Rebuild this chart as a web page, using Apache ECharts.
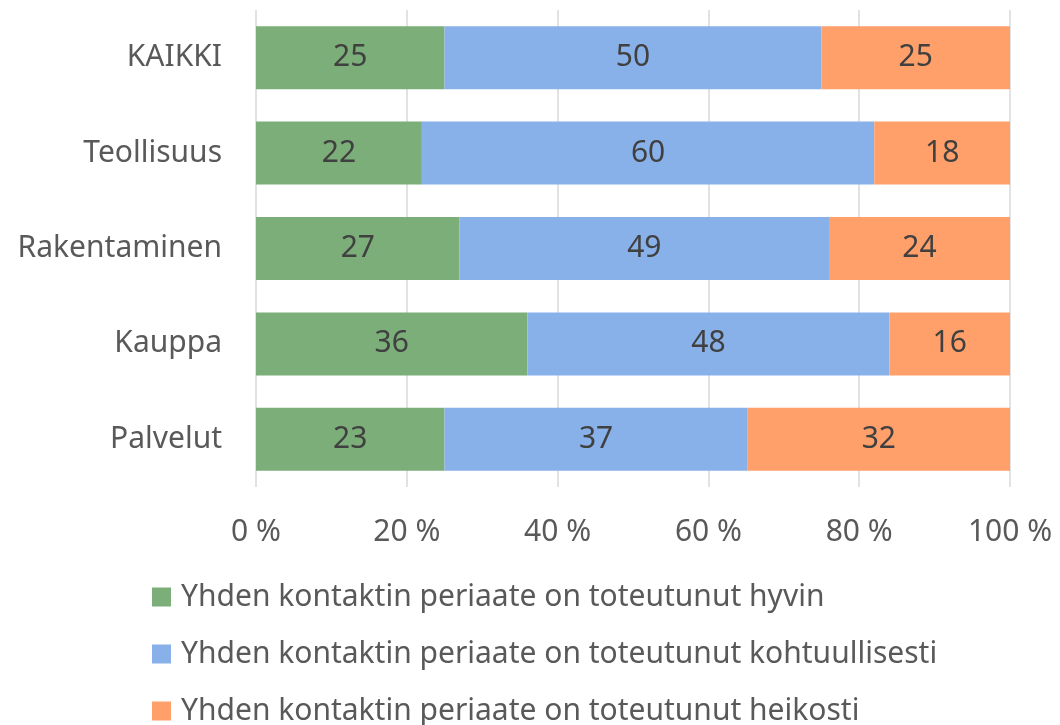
<!DOCTYPE html>
<html><head><meta charset="utf-8">
<script src="https://cdn.jsdelivr.net/npm/echarts@6/dist/echarts.min.js"></script>
<style>html,body{margin:0;padding:0;background:#fff}#c{width:1060px;height:725px}</style>
</head><body><div id="c"></div>
<script>
const categories = ['KAIKKI', 'Teollisuus', 'Rakentaminen', 'Kauppa', 'Palvelut'];
const hyvin = [25, 22, 27, 36, 23];
const kohtuullisesti = [50, 60, 49, 48, 37];
const heikosti = [25, 18, 24, 16, 32];
const seriesNames = [
  'Yhden kontaktin periaate on toteutunut hyvin',
  'Yhden kontaktin periaate on toteutunut kohtuullisesti',
  'Yhden kontaktin periaate on toteutunut heikosti'
];
const colors = ['#7BAE79', '#88B1EA', '#FF9F6A'];
const xTicks = [0, 20, 40, 60, 80, 100];

const raw = [hyvin, kohtuullisesti, heikosti];
const totals = categories.map((_, i) => raw.reduce((s, a) => s + a[i], 0));
const FONT = '"Noto Sans", sans-serif';

const chart = echarts.init(document.getElementById('c'));
chart.setOption({
  animation: false,
  textStyle: { fontFamily: FONT },
  grid: { left: 256, right: 50, top: 10, bottom: 238, containLabel: false },
  xAxis: {
    type: 'value', min: 0, max: 100, interval: 20,
    axisLine: { show: false }, axisTick: { show: false },
    splitLine: { lineStyle: { color: '#D9D9D9', width: 1.5 } },
    axisLabel: { color: '#595959', fontSize: 30, margin: 30, fontFamily: FONT,
      formatter: v => xTicks.includes(v) ? v + ' %' : '' }
  },
  yAxis: {
    type: 'category', data: categories, inverse: true,
    axisLine: { show: false }, axisTick: { show: false },
    axisLabel: { color: '#595959', fontSize: 30, margin: 34, fontFamily: FONT }
  },
  legend: {
    orient: 'vertical', left: 152, top: 582, height: 160, padding: 0,
    itemWidth: 19, itemHeight: 19, itemGap: 27,
    icon: 'rect',
    textStyle: { color: '#595959', fontSize: 30, fontFamily: FONT, padding: [0, 0, 0, 5] },
    data: seriesNames
  },
  series: raw.map((arr, k) => ({
    name: seriesNames[k], type: 'bar', stack: 'a', barWidth: 63,
    itemStyle: { color: colors[k] },
    label: { show: true, position: 'inside', color: '#404040', fontSize: 30, fontFamily: FONT,
      formatter: p => arr[p.dataIndex] },
    data: arr.map((v, i) => v / totals[i] * 100)
  }))
});
</script></body></html>
